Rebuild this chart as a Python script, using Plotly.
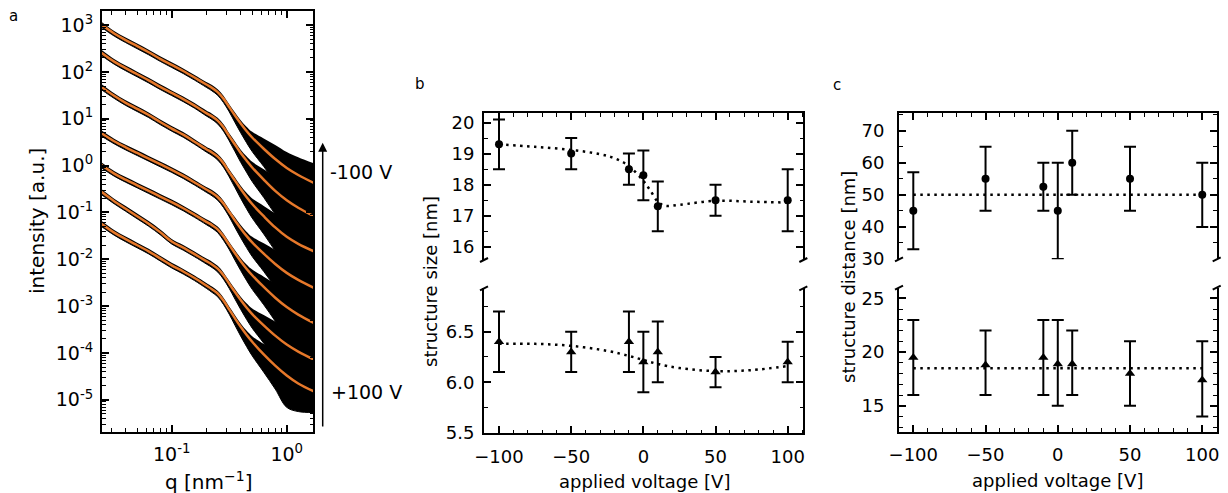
import plotly.graph_objects as go

# ---------------- Panel a : SAXS curves ----------------
q_nm = [0.0245, 0.0316, 0.0398, 0.0501, 0.0631, 0.0794, 0.100, 0.126, 0.158, 0.200,
        0.224, 0.251, 0.282, 0.316, 0.355, 0.398, 0.447, 0.501, 0.631, 0.794, 1.000, 1.259, 1.72]

# log10(intensity) of the fitted curves, top (-100 V) to bottom (+100 V)
fit_log10_I = [
    [3.01, 2.82, 2.68, 2.55, 2.42, 2.28, 2.15, 2.02, 1.88, 1.73, 1.66, 1.57, 1.43, 1.25, 1.07, 0.90, 0.74, 0.60, 0.36, 0.14, -0.05, -0.20, -0.37],
    [2.41, 2.22, 2.08, 1.95, 1.82, 1.68, 1.55, 1.42, 1.28, 1.12, 1.05, 0.96, 0.82, 0.63, 0.45, 0.27, 0.11, -0.04, -0.30, -0.54, -0.74, -0.90, -1.08],
    [1.68, 1.49, 1.34, 1.21, 1.08, 0.93, 0.79, 0.66, 0.51, 0.35, 0.28, 0.19, 0.05, -0.14, -0.32, -0.50, -0.67, -0.82, -1.08, -1.32, -1.52, -1.67, -1.83],
    [0.69, 0.52, 0.39, 0.27, 0.15, 0.03, -0.09, -0.22, -0.36, -0.51, -0.58, -0.67, -0.81, -0.99, -1.17, -1.34, -1.50, -1.64, -1.88, -2.10, -2.29, -2.44, -2.61],
    [0.01, -0.17, -0.30, -0.42, -0.54, -0.66, -0.78, -0.91, -1.05, -1.20, -1.27, -1.36, -1.51, -1.69, -1.87, -2.04, -2.20, -2.34, -2.59, -2.82, -3.02, -3.18, -3.36],
    [-0.56, -0.76, -0.92, -1.08, -1.24, -1.42, -1.62, -1.75, -1.89, -2.04, -2.11, -2.20, -2.34, -2.52, -2.70, -2.87, -3.03, -3.17, -3.41, -3.63, -3.82, -3.97, -4.14],
    [-1.24, -1.43, -1.57, -1.70, -1.83, -1.98, -2.13, -2.26, -2.40, -2.56, -2.64, -2.73, -2.88, -3.07, -3.26, -3.44, -3.61, -3.76, -4.03, -4.27, -4.48, -4.65, -4.82],
]
# scatter of the measured points around each fit (decades above / below)
data_spread_up = [0.06, 0.055, 0.055, 0.055, 0.055, 0.055, 0.055, 0.055, 0.055, 0.055, 0.058, 0.06,
                  0.06, 0.06, 0.065, 0.07, 0.09, 0.12, 0.22, 0.30, 0.34, 0.38, 0.42]
data_spread_down = [0.06, 0.055, 0.055, 0.055, 0.055, 0.055, 0.055, 0.055, 0.055, 0.06, 0.065, 0.07,
                    0.085, 0.10, 0.15, 0.20, 0.25, 0.30, 0.38, 0.50, 0.68, 0.60, 0.45]

# ---------------- Panels b and c ----------------
voltage = [-100, -50, -10, 0, 10, 50, 100]

size_large = [19.3, 19.0, 18.5, 18.3, 17.3, 17.5, 17.5]
size_large_err = [0.8, 0.5, 0.5, 0.8, 0.8, 0.5, 1.0]
size_small = [6.4, 6.3, 6.4, 6.2, 6.3, 6.1, 6.2]
size_small_err = [0.3, 0.2, 0.3, 0.3, 0.3, 0.15, 0.2]

size_large_fit_v = [-100, -75, -50, -30, -20, -10, 0, 5, 10, 15, 25, 50, 75, 100]
size_large_fit = [19.3, 19.22, 19.12, 18.98, 18.85, 18.6, 18.12, 17.8, 17.45, 17.32, 17.35, 17.48, 17.45, 17.42]
size_small_fit_v = [-100, -75, -50, -25, -10, 0, 10, 25, 50, 75, 100]
size_small_fit = [6.38, 6.38, 6.36, 6.31, 6.26, 6.22, 6.18, 6.14, 6.11, 6.12, 6.16]

dist_large = [45, 55, 52.5, 45, 60, 55, 50]
dist_large_err = [12, 10, 7.5, 15, 10, 10, 10]
dist_small = [19.5, 18.8, 19.5, 18.9, 18.9, 18.0, 17.4]
dist_small_plus = [3.5, 3.2, 3.5, 4.1, 3.1, 3.0, 3.6]
dist_small_minus = [3.5, 2.8, 3.5, 3.9, 2.9, 3.0, 3.4]
dist_fit_v = [-100, 100]
dist_large_fit = [50, 50]
dist_small_fit = [18.5, 18.5]

FONT = "DejaVu Sans"
W, H = 1228, 493
ORANGE = "#E6782A"


def px(x):
    return x / W


def py(y):
    return 1 - y / H


fig = go.Figure()

# black bands of measured points
for c in fit_log10_I:
    fig.add_trace(go.Scatter(x=q_nm, y=[10 ** (v + s) for v, s in zip(c, data_spread_up)],
                             mode="lines", line=dict(width=0, color="black", shape="spline"),
                             xaxis="x", yaxis="y", showlegend=False, hoverinfo="skip"))
    fig.add_trace(go.Scatter(x=q_nm, y=[10 ** (v - s) for v, s in zip(c, data_spread_down)],
                             mode="lines", line=dict(width=1, color="black", shape="spline"),
                             fill="tonexty", fillcolor="black",
                             xaxis="x", yaxis="y", showlegend=False, hoverinfo="skip"))
# orange fits
for c in fit_log10_I:
    fig.add_trace(go.Scatter(x=q_nm, y=[10 ** v for v in c], mode="lines",
                             line=dict(width=2.5, color=ORANGE, shape="spline"),
                             xaxis="x", yaxis="y", showlegend=False))

DOT = dict(color="black", width=2.5, dash="2.5px,4.5px")


def err(arr, arrm=None):
    d = dict(type="data", array=arr, color="black", thickness=2, width=6)
    if arrm is not None:
        d["symmetric"] = False
        d["arrayminus"] = arrm
    return d


# panel b
fig.add_trace(go.Scatter(x=size_large_fit_v, y=size_large_fit, mode="lines", line=dict(**DOT, shape="spline"),
                         xaxis="x2", yaxis="y2", showlegend=False))
fig.add_trace(go.Scatter(x=voltage, y=size_large, mode="markers",
                         marker=dict(symbol="circle", size=8, color="black"),
                         error_y=err(size_large_err), xaxis="x2", yaxis="y2", showlegend=False))
fig.add_trace(go.Scatter(x=size_small_fit_v, y=size_small_fit, mode="lines", line=dict(**DOT, shape="spline"),
                         xaxis="x3", yaxis="y3", showlegend=False))
fig.add_trace(go.Scatter(x=voltage, y=size_small, mode="markers",
                         marker=dict(symbol="triangle-up", size=9, color="black"),
                         error_y=err(size_small_err), xaxis="x3", yaxis="y3", showlegend=False))
# panel c
fig.add_trace(go.Scatter(x=dist_fit_v, y=dist_large_fit, mode="lines", line=DOT,
                         xaxis="x4", yaxis="y4", showlegend=False))
fig.add_trace(go.Scatter(x=voltage, y=dist_large, mode="markers",
                         marker=dict(symbol="circle", size=8, color="black"),
                         error_y=err(dist_large_err), xaxis="x4", yaxis="y4", showlegend=False))
fig.add_trace(go.Scatter(x=dist_fit_v, y=dist_small_fit, mode="lines", line=DOT,
                         xaxis="x5", yaxis="y5", showlegend=False))
fig.add_trace(go.Scatter(x=voltage, y=dist_small, mode="markers",
                         marker=dict(symbol="triangle-up", size=9, color="black"),
                         error_y=err(dist_small_plus, dist_small_minus), xaxis="x5", yaxis="y5",
                         showlegend=False))

common = dict(showgrid=False, zeroline=False, showline=True, linecolor="black", linewidth=2,
              ticks="inside", ticklen=7, tickwidth=1.5, tickcolor="black",
              color="black", automargin=False)
minor_lin = dict(ticks="inside", ticklen=3.5, tickwidth=1.2, tickcolor="black", showgrid=False)

# panel a axes
a_major_x = [0.1, 1]
a_minor_x = [m * 10 ** e for e in (-2, -1, 0) for m in range(2, 10)]
a_major_y = [10 ** e for e in range(-5, 4)]
a_minor_y = [m * 10 ** e for e in range(-6, 4) for m in range(2, 10)]

TF = 18  # tick font panels b, c

fig.update_layout(
    width=W, height=H, autosize=False, margin=dict(l=0, r=0, t=0, b=0, pad=0, autoexpand=False),
    paper_bgcolor="white", plot_bgcolor="white",
    font=dict(family=FONT, color="black"),
    xaxis=dict(**common, domain=[px(102), px(313.3)], anchor="y", type="log",
               range=[-1.606, 0.231], tickvals=a_major_x,
               ticktext=["10<sup>-1</sup>", "10<sup>0</sup>"], mirror="allticks",
               tickfont=dict(size=19, family=FONT), ticklabelstandoff=4,
               minor=dict(**minor_lin, tickvals=a_minor_x)),
    yaxis=dict(**common, domain=[py(431.7), py(11)], anchor="x", type="log",
               range=[-5.68, 3.30], tickvals=a_major_y,
               ticktext=["10<sup>%d</sup>" % e for e in range(-5, 4)], mirror="allticks",
               tickfont=dict(size=19, family=FONT), ticklabelstandoff=3,
               minor=dict(**minor_lin, tickvals=a_minor_y)),
    # panel b
    xaxis2=dict(**common, domain=[px(484), px(803.3)], anchor="y2", side="top",
                range=[-110.4, 110.8], tick0=0, dtick=50, showticklabels=False,
                minor=dict(**minor_lin, dtick=10)),
    yaxis2=dict(**common, domain=[py(260), py(113.3)], anchor="x2", range=[15.57, 20.3],
                tick0=0, dtick=1, mirror="allticks", tickfont=dict(size=TF, family=FONT),
                ticklabelstandoff=4, minor=dict(**minor_lin, dtick=0.5)),
    xaxis3=dict(**common, domain=[px(484), px(803.3)], anchor="y3", side="bottom",
                range=[-110.4, 110.8], tick0=0, dtick=50, tickfont=dict(size=TF, family=FONT),
                ticklabelstandoff=6, minor=dict(**minor_lin, dtick=10)),
    yaxis3=dict(**common, domain=[py(433.3), py(288.3)], anchor="x3", range=[5.494, 6.93],
                tick0=5.5, dtick=0.5, tickformat=".1f", mirror="allticks",
                tickfont=dict(size=TF, family=FONT), ticklabelstandoff=4,
                minor=dict(**minor_lin, dtick=0.25)),
    # panel c
    xaxis4=dict(**common, domain=[px(899), px(1216.7)], anchor="y4", side="top",
                range=[-109.9, 110], tick0=0, dtick=50, showticklabels=False,
                minor=dict(**minor_lin, dtick=10)),
    yaxis4=dict(**common, domain=[py(259.3), py(113.3)], anchor="x4", range=[29.9, 75.4],
                tick0=0, dtick=10, mirror="allticks", tickfont=dict(size=TF, family=FONT),
                ticklabelstandoff=9, minor=dict(**minor_lin, dtick=5)),
    xaxis5=dict(**common, domain=[px(899), px(1216.7)], anchor="y5", side="bottom",
                range=[-109.9, 110], tick0=0, dtick=50, tickfont=dict(size=TF, family=FONT),
                ticklabelstandoff=6, minor=dict(**minor_lin, dtick=10)),
    yaxis5=dict(**common, domain=[py(431.7), py(287.7)], anchor="x5", range=[12.58, 26],
                tick0=0, dtick=5, mirror="allticks", tickfont=dict(size=TF, family=FONT),
                ticklabelstandoff=9, minor=dict(**minor_lin, dtick=1)),
)

ann = []


def text(t, x, y, size, xanchor="center", yanchor="middle", angle=0):
    ann.append(dict(text=t, x=px(x), y=py(y), xref="paper", yref="paper", showarrow=False,
                    xanchor=xanchor, yanchor=yanchor, textangle=angle,
                    font=dict(size=size, family=FONT, color="black")))


text("a", 13, 16, 15)
text("b", 420, 84, 15)
text("c", 837, 85, 15)
text("intensity [a.u.]", 37, 221, 20, angle=-90)
text("q [nm<sup>−1</sup>]", 208, 481, 20)
text("structure size [nm]", 430, 282, 18, angle=-90)
text("applied voltage [V]", 644, 481, 18)
text("structure distance [nm]", 848, 277, 18, angle=-90)
text("applied voltage [V]", 1057, 480, 18)
text("-100 V", 328, 172, 19, xanchor="left")
text("+100 V", 329, 392, 19, xanchor="left")

# arrow from +100 V to -100 V
ann.append(dict(x=px(322.7), y=py(142.7), ax=0, ay=428 - 142.7, xref="paper", yref="paper",
                axref="pixel", ayref="pixel", showarrow=True, arrowhead=2, arrowsize=1.2,
                arrowwidth=1.5, arrowcolor="black", text=""))

# broken-axis marks
shapes = []
for (x0, y0) in [(484, 260), (803.3, 260), (484, 288.3), (803.3, 288.3),
                 (899, 259.3), (1216.7, 259.3), (899, 287.7), (1216.7, 287.7)]:
    shapes.append(dict(type="line", xref="paper", yref="paper",
                       x0=px(x0 - 4), y0=py(y0 + 2), x1=px(x0 + 4), y1=py(y0 - 2),
                       line=dict(color="black", width=2)))

fig.update_layout(annotations=ann, shapes=shapes)

fig.write_html("out.html", config={"displayModeBar": False},
               post_script="document.body.style.margin='0';document.body.style.overflow='hidden';")
